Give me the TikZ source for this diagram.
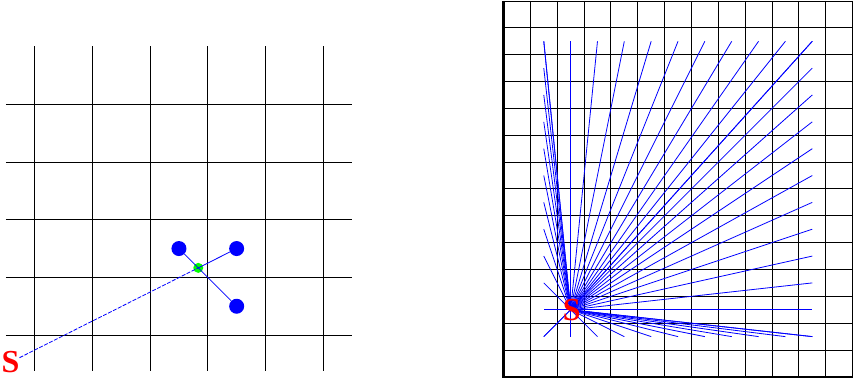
\documentclass[tikz,border=0pt]{standalone}
\usepackage{fontspec}
\newfontfamily\srcfont{Liberation Serif Bold}
\usetikzlibrary{calc}

\begin{document}
\begin{tikzpicture}[x=1pt,y=-1pt,
  gl/.style={draw=black,line width=0.9pt},
  dot/.style={circle,fill=blue,inner sep=0pt,minimum size=15pt},
  hit/.style={circle,fill=green,inner sep=0pt,minimum size=10pt},
  src/.style={text=red,font=\srcfont\fontsize{32}{32}\selectfont,inner sep=0pt},
  ray/.style={draw=blue,line width=0.8pt}
]
\useasboundingbox (0,0) rectangle (853,379);
% left panel
\begin{scope}[shift={(34.7,104.3)},x=57.7pt,y=-57.7pt]
\foreach \i in {0,...,5} \draw[gl] (\i,-1.01) -- (\i,4.62);
\foreach \j in {0,...,4} \draw[gl] (-0.5,\j) -- (5.5,\j);
\node[dot] (d1) at (2.5,2.5) {};
\node[dot] (d2) at (3.5,2.5) {};
\node[dot] (d3) at (3.5,3.5) {};
\node[src] (s1) at (-0.42,4.47) {S};
\node[hit] (h) at (intersection of s1.center--d2.center and d1.center--d3.center) {};
\draw[ray,dash pattern=on 4pt off 1.5pt] (s1) -- (h.center);
\draw[ray] (h.center) -- (d2);
\draw[ray] (d1) -- (d3);
\end{scope}
% right panel
\begin{scope}[shift={(503.5,1)},x=26.85pt,y=-26.85pt]
\foreach \i in {0,...,13} \draw[gl] (\i,0) -- (\i,14);
\foreach \j in {0,...,14} \draw[gl] (0,\j) -- (13,\j);
\draw[line width=2.6pt] (0,0) -- (0,14) -- (13,14);
\coordinate (o) at (2.5,11.5);
\foreach \c in {1,...,11} {
  \coordinate (t\c) at (\c+0.5,1.5);
  \coordinate (b\c) at (\c+0.5,12.5);
  \draw[ray] (o) -- (t\c);
  \draw[ray] (o) -- (b\c);
}
\foreach \r in {1,...,12} {
  \coordinate (l\r) at (1.5,\r+0.5);
  \coordinate (r\r) at (11.5,\r+0.5);
  \draw[ray] (o) -- (l\r);
  \draw[ray] (o) -- (r\r);
}
\node[src] (s2) at ($(o)+(0.04,0)$) {S};
\end{scope}
\end{tikzpicture}
\end{document}
